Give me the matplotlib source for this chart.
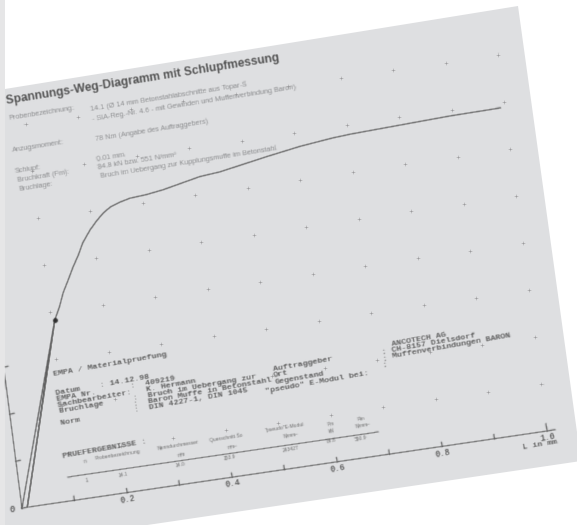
import matplotlib
matplotlib.use("Agg")
import matplotlib.pyplot as plt
import numpy as np
from matplotlib.transforms import Affine2D, offset_copy
from matplotlib.patches import Polygon, Rectangle

# ---------------- data ----------------
# slip / displacement L in mm and stress in N/mm^2 (load - unload - reload - failure)
slip_mm = [0.000, 0.107, 0.010, 0.107, 0.119, 0.129, 0.142, 0.154, 0.167,
           0.178, 0.195, 0.210, 0.224, 0.238, 0.258, 0.277, 0.309, 0.341,
           0.413, 0.452, 0.543, 0.608, 0.671, 0.705, 0.800, 0.896, 0.991]
stress = [0, 306, 0, 306, 327, 349, 370, 390, 409,
          428, 448, 462, 473, 481, 487, 491, 493, 497,
          510, 513, 527, 536, 542, 544, 547, 550, 551]
unload_index = 1                      # point where the slip measurement cycle starts
x_ticks = [0.1, 0.2, 0.3, 0.4, 0.5, 0.6, 0.7, 0.8, 0.9, 1.0]
x_tick_labels = ["", "0.2", "", "0.4", "", "0.6", "", "0.8", "", "1.0"]
y_grid = [80, 160, 240, 320, 400, 480, 560, 640]

title = "Spannungs-Weg-Diagramm mit Schlupfmessung"
head_labels = ["Probenbezeichnung:", "Anzugsmoment:", "Schlupf:", "Bruchkraft (Fm):", "Bruchlage:"]
head_values = ["14.1 (\u00d8 14 mm Betonstahlabschnitte aus Topar-S",
               "- SIA-Reg.-Nr. 4.6 - mit Gewinden und Muffenverbindung Baron)",
               "78 Nm (Angabe des Auftraggebers)",
               "0.01 mm",
               "84.8 kN bzw. 551 N/mm\u00b2",
               "Bruch im Uebergang zur Kupplungsmuffe im Betonstahl"]
empa_rows = ["Datum    : 14.12.98",
             "EMPA Nr.       :  409219",
             "Sachbearbeiter:   K. Hermann",
             "Bruchlage      :  Bruch im Uebergang zur",
             "               :  Baron Muffe in Betonstahl",
             "Norm           :  DIN 4227-1, DIN 1045"]
client_labels = ["Auftraggeber", "Ort", "Gegenstand", "\"pseudo\" E-Modul bei:"]
client_values = ["ANCOTECH AG", "CH-8157 Dielsdorf", "Muffenverbindungen BARON"]
table_headers = ["n", "Probenbezeichnung", "Nenndurchmesser", "Querschnitt So",
                 "\"pseudo\"E-Modul", "Fm", "Rm"]
table_units = ["mm", "mm\u00b2", "N/mm\u00b2", "kN", "N/mm\u00b2"]
table_values = ["1", "14.1", "14.0", "153.9", "243427", "84.8", "550.9"]


# soft focus of the photograph
def blur(sigma):
    pad = int(np.ceil(3 * sigma)) + 1
    k = np.exp(-0.5 * (np.arange(-pad, pad + 1) / sigma) ** 2)
    k /= k.sum()

    def f(im, dpi):
        a = np.pad(im, ((pad, pad), (pad, pad), (0, 0)))
        out = np.zeros_like(a)
        for i, w in enumerate(k):
            out += w * np.roll(a, i - pad, axis=0)
        a = out
        out = np.zeros_like(a)
        for i, w in enumerate(k):
            out += w * np.roll(a, i - pad, axis=1)
        return out, -pad, -pad
    return f


soft = blur(0.55)

# ---------------- figure ----------------
fig = plt.figure(figsize=(5.77, 5.25), dpi=100)
fig.patch.set_facecolor("white")
ax = fig.add_axes([0, 0, 1, 1])
ax.set_xlim(0, 577)
ax.set_ylim(525, 0)
ax.axis("off")

# photographed sheet of paper
ax.add_patch(Rectangle((0, 0), 5, 525, facecolor="#e6e6e7", edgecolor="none", zorder=0))
page = Polygon([(5, 89), (518, 6), (581, 461), (5, 546)], closed=True,
               facecolor="#dedfe1", edgecolor="none", zorder=1)
ax.add_patch(page)

# chart frame: mm / N/mm2 mapped onto the tilted sheet
T = Affine2D.from_values(525, -77, -0.0764, -0.5875, 22, 508) + ax.transData


def clip(artists, sigma=True):
    for a in artists:
        a.set_clip_path(page)
        if sigma:
            a.set_agg_filter(soft)


line_kw = dict(color="#5e5e5e", lw=0.9, transform=T, zorder=3)
clip(ax.plot([0, 1.015], [0, 0], **line_kw))
clip(ax.plot([0, 0], [0, 680], **line_kw))
for xt in x_ticks:
    h = 12 if xt == x_ticks[-1] else 6.8
    clip(ax.plot([xt, xt], [0, h], **line_kw))
for yt in y_grid:
    clip(ax.plot([0, 0.008], [yt, yt], **line_kw))

# dotted grid
gx, gy = np.meshgrid(x_ticks, y_grid)
clip(ax.plot(gx.ravel(), gy.ravel(), "+", ms=2.2, mew=0.6, color="#8a8b8d",
             transform=T, zorder=2))

# curve
clip(ax.plot(slip_mm, stress, color="#5c5c5c", lw=1.0, transform=T, zorder=4))
clip(ax.plot([slip_mm[unload_index]], [stress[unload_index]], "o", ms=2.4,
             color="#2e2e2e", transform=T, zorder=5))


def txt(*args, **kw):
    t = ax.text(*args, **kw)
    t.set_agg_filter(soft)
    return t


# axis labels
lab_T = offset_copy(T, fig=fig, x=1, y=-6.5, units="dots")
mono = "Liberation Mono"
for xt, lab in zip(x_ticks, x_tick_labels):
    if lab:
        txt(xt, 0, lab, transform=lab_T, ha="center", va="center", rotation=9,
            family=mono, weight="bold", fontsize=6.2, color="#5a5a5a", zorder=5)
txt(0, 0, "0", transform=offset_copy(T, fig=fig, x=-10, y=-2, units="dots"),
    ha="center", va="center", family=mono, weight="bold", fontsize=6.2, color="#5a5a5a")
txt(523, 448, "L in mm", rotation=9, rotation_mode="anchor", ha="left", va="center",
    family=mono, weight="bold", fontsize=6.0, color="#5a5a5a")

# header block
sans = "Liberation Sans"
txt(6, 101, title, rotation=9, rotation_mode="anchor", ha="left", va="center",
    family=sans, weight="bold", fontsize=8.6, color="#4a4a4a")
small = dict(rotation=9, rotation_mode="anchor", ha="left", va="center",
             family=sans, fontsize=5.2, color="#858688")
for (x, y), s in zip([(9, 119), (12, 151), (15, 172), (17, 181), (19, 190)], head_labels):
    txt(x, y, s, **small)
for (x, y), s in zip([(90, 110), (92, 120), (95, 140), (97, 160), (98, 168), (100, 177)],
                     head_values):
    txt(x, y, s, **small)

# EMPA block (typewriter)
tw = dict(rotation=10, rotation_mode="anchor", ha="left", va="center",
          family=mono, weight="bold", fontsize=6.0, color="#5a5a5a")
txt(53, 375, "EMPA / Materialpruefung", **tw)
for k, s in enumerate(empa_rows):
    txt(56 + 1.0 * k, 394 + 6.0 * k, s, **tw)
for (x, y), s in zip([(273, 370), (273, 376), (275, 383), (265, 392)], client_labels):
    txt(x, y, s, **tw)
for k in range(3):
    txt(381 + 0.5 * k, 353 + 6.2 * k, ":", **tw)
for (x, y), s in zip([(392, 345), (392, 351), (392, 357)], client_values):
    txt(x, y, s, **tw)

# results table
txt(63, 457, "PRUEFERGEBNISSE :", **tw)
tiny = dict(rotation=9, rotation_mode="anchor", ha="left", va="center",
            family=sans, fontsize=3.6, color="#666666")
for (x, y), s in zip([(83, 462), (95, 459), (157, 449), (210, 441), (265, 431), (327, 425), (357, 420)],
                     table_headers):
    txt(x, y, s, **tiny)
for (x, y), s in zip([(177, 456), (227, 448), (283, 437), (328, 432), (355, 427)], table_units):
    txt(x, y, s, **tiny)
rule = ax.plot([68, 378], [477, 432], color="#5a5a5a", lw=0.8, zorder=3)
rule[0].set_agg_filter(soft)
for (x, y), s in zip([(85, 481), (118, 476), (175, 466), (223, 459), (282, 451), (327, 442), (355, 440)],
                     table_values):
    txt(x, y, s, **tiny)

fig.savefig("out.png", dpi=100, facecolor="white")
